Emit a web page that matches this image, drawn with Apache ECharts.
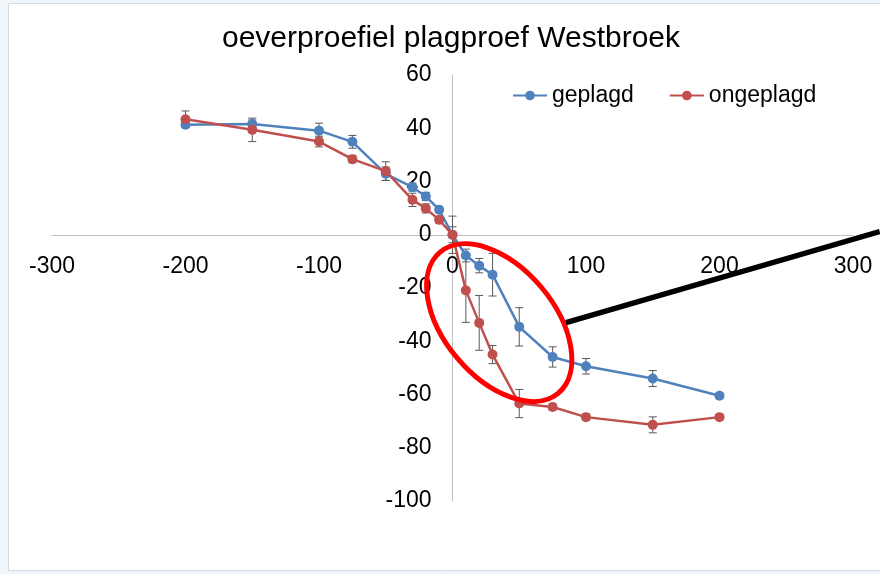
<!DOCTYPE html>
<html>
<head>
<meta charset="utf-8">
<script src="https://cdn.jsdelivr.net/npm/echarts@6/dist/echarts.min.js"></script>
<style>
  html, body { margin: 0; padding: 0; background: #f0f5fb; }
  #chart { width: 880px; height: 574px; }
</style>
</head>
<body>
<div id="chart"></div>
<script>
// afstand tot de oever (x) en hoogte (y)
var xValues = [-200, -150, -100, -75, -50, -30, -20, -10, 0, 10, 20, 30, 50, 75, 100, 150, 200];
var geplagd = [41.3, 41.6, 39.1, 34.9, 22.9, 17.9, 14.4, 9.4, 0, -7.8, -11.6, -15, -34.6, -45.9, -49.4, -54, -60.5];
var ongeplagd = [43.4, 39.4, 35, 28.4, 23.9, 13.1, 9.9, 5.6, 0, -20.9, -33.1, -45, -63.4, -64.7, -68.5, -71.4, -68.5];
// foutbalken (+/-)
var geplagdErr = [1, 1.5, 2.8, 2.4, 2.5, 1.5, 1.5, 1, 7, 2.4, 2.7, 8, 7.2, 3.8, 2.9, 3, 1];
var ongeplagdErr = [3.1, 4.4, 2, 1.4, 3.5, 2.5, 1.7, 1.2, 3, 12, 10.3, 3.4, 5.3, 1.2, 1.2, 3, 1];

var xMin = -300, xMax = 300, xStep = 100;
var yMin = -100, yMax = 60, yStep = 20;

var FONT = 'Liberation Sans';
var BLUE = '#4f81bd';
var RED = '#c0504d';

var W = 880, H = 574;
var gridBox = { left: 52, right: 27, top: 75, bottom: 73 };
var gridW = W - gridBox.left - gridBox.right;
var gridH = H - gridBox.top - gridBox.bottom;
// assen door de oorsprong laten lopen (met labels erbij)
var xAxisOffset = -gridH * (0 - yMin) / (yMax - yMin);
var yAxisOffset = -gridW * (0 - xMin) / (xMax - xMin);

function pairs(ys) {
  return xValues.map(function (x, i) { return [x, ys[i]]; });
}
function errData(ys, errs) {
  return xValues.map(function (x, i) { return [x, ys[i] - errs[i], ys[i] + errs[i]]; });
}
function renderErr(params, api) {
  var x = api.value(0);
  var top = api.coord([x, api.value(2)]);
  var bot = api.coord([x, api.value(1)]);
  var w = 4;
  var st = { stroke: '#595959', lineWidth: 1 };
  return {
    type: 'group',
    children: [
      { type: 'line', shape: { x1: top[0], y1: top[1], x2: bot[0], y2: bot[1] }, style: st },
      { type: 'line', shape: { x1: top[0] - w, y1: top[1], x2: top[0] + w, y2: top[1] }, style: st },
      { type: 'line', shape: { x1: bot[0] - w, y1: bot[1], x2: bot[0] + w, y2: bot[1] }, style: st }
    ]
  };
}

var frame = {
  type: 'rect',
  z: -10,
  silent: true,
  shape: { x: 8.5, y: 3.5, width: 880, height: 567 },
  style: { fill: '#fff', stroke: '#d9d9d9', lineWidth: 1 }
};

var myChart = echarts.init(document.getElementById('chart'));

var options = {
  backgroundColor: 'transparent',
  animation: false,
  title: {
    text: 'oeverproefiel plagproef Westbroek',
    left: 446,
    textAlign: 'center',
    top: 19,
    textStyle: { fontFamily: FONT, fontSize: 30, fontWeight: 'normal', color: '#000' }
  },
  legend: {
    left: 512,
    top: 84,
    padding: 0,
    itemWidth: 34,
    itemHeight: 12,
    itemGap: 35,
    textStyle: { fontFamily: FONT, fontSize: 23, color: '#000' },
    data: ['geplagd', 'ongeplagd']
  },
  grid: {
    left: gridBox.left,
    right: gridBox.right,
    top: gridBox.top,
    bottom: gridBox.bottom,
    containLabel: false,
    outerBoundsMode: 'none'
  },
  xAxis: {
    type: 'value',
    min: xMin,
    max: xMax,
    interval: xStep,
    offset: xAxisOffset,
    axisLine: { onZero: false, lineStyle: { color: '#bfbfbf', width: 1 } },
    axisTick: { show: false },
    splitLine: { show: false },
    axisLabel: { margin: 20, fontFamily: FONT, fontSize: 23, color: '#000' }
  },
  yAxis: {
    type: 'value',
    min: yMin,
    max: yMax,
    interval: yStep,
    offset: yAxisOffset,
    axisLine: { onZero: false, lineStyle: { color: '#bfbfbf', width: 1 } },
    axisTick: { show: false },
    splitLine: { show: false },
    axisLabel: { margin: 21, fontFamily: FONT, fontSize: 23, color: '#000' }
  },
  graphic: [frame],
  series: [
    {
      name: 'geplagd-err',
      type: 'custom',
      z: 1,
      renderItem: renderErr,
      encode: { x: 0, y: [1, 2] },
      data: errData(geplagd, geplagdErr)
    },
    {
      name: 'ongeplagd-err',
      type: 'custom',
      z: 1,
      renderItem: renderErr,
      encode: { x: 0, y: [1, 2] },
      data: errData(ongeplagd, ongeplagdErr)
    },
    {
      name: 'geplagd',
      type: 'line',
      z: 3,
      symbol: 'circle',
      symbolSize: 10,
      color: BLUE,
      lineStyle: { width: 2.5, color: BLUE },
      itemStyle: { color: BLUE },
      data: pairs(geplagd)
    },
    {
      name: 'ongeplagd',
      type: 'line',
      z: 4,
      symbol: 'circle',
      symbolSize: 10,
      color: RED,
      lineStyle: { width: 2.5, color: RED },
      itemStyle: { color: RED },
      data: pairs(ongeplagd)
    }
  ]
};
myChart.setOption(options);

// annotatie: rode ellips om het steile stuk en zwarte lijn naar rechts
var c = myChart.convertToPixel({ gridIndex: 0 }, [35, -33]);
var l1 = myChart.convertToPixel({ gridIndex: 0 }, [85, -33]);
var l2 = myChart.convertToPixel({ gridIndex: 0 }, [320, 1.2]);
myChart.setOption({
  graphic: [
    frame,
    {
      type: 'ellipse',
      z: 10,
      silent: true,
      x: c[0],
      y: c[1],
      rotation: -50 * Math.PI / 180,
      shape: { cx: 0, cy: 0, rx: 92, ry: 55 },
      style: { fill: 'none', stroke: '#ff0000', lineWidth: 5 }
    },
    {
      type: 'line',
      z: 11,
      silent: true,
      shape: { x1: l1[0], y1: l1[1], x2: l2[0], y2: l2[1] },
      style: { stroke: '#000', lineWidth: 5.5 }
    }
  ]
});
</script>
</body>
</html>
